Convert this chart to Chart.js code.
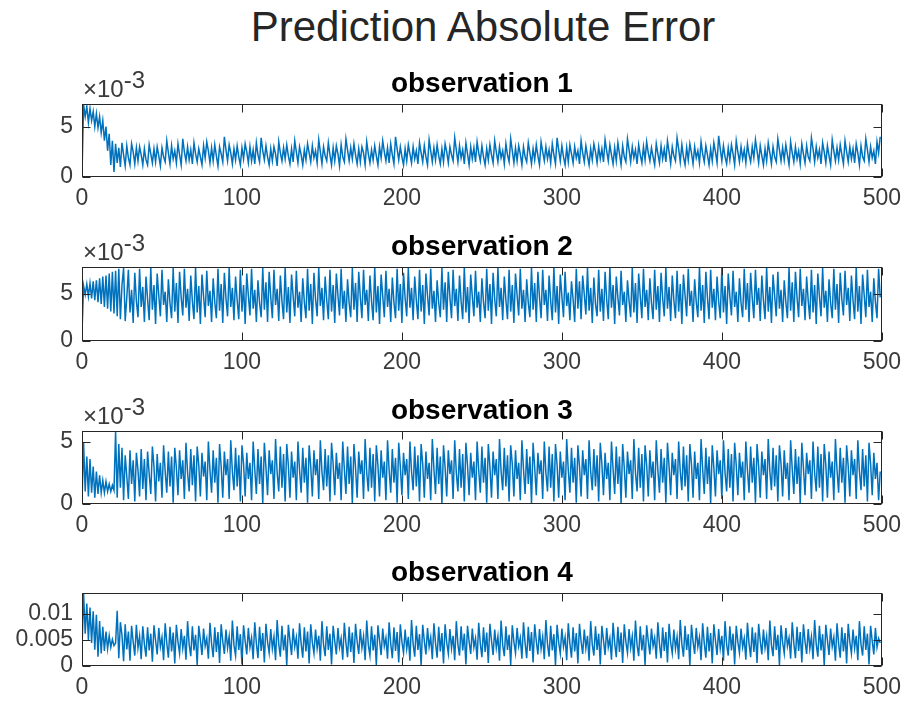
<!DOCTYPE html>
<html>
<head>
<meta charset="utf-8">
<title>Prediction Absolute Error</title>
<script src="https://cdn.jsdelivr.net/npm/chart.js@4.4.1/dist/chart.umd.min.js"></script>
<style>
  body { margin: 0; background: #fff; }
  #fig { position: relative; width: 909px; height: 702px; font-family: "Liberation Sans", Arial, sans-serif; }
  #fig h1 { position: absolute; left: 82px; width: 802px; top: 6px; margin: 0; text-align: center;
            font-weight: normal; font-size: 42px; line-height: 42px; color: #262626; }
  #fig canvas { position: absolute; left: 0; }
</style>
</head>
<body>
<div id="fig">
  <h1>Prediction Absolute Error</h1>
  <canvas id="c1" width="909" height="149" style="top:64px"></canvas>
  <canvas id="c2" width="909" height="150" style="top:227px"></canvas>
  <canvas id="c3" width="909" height="149" style="top:391px"></canvas>
  <canvas id="c4" width="909" height="149" style="top:553px"></canvas>
</div>
<script>
// eje x: muestras 0..499
const xTicks = [0, 100, 200, 300, 400, 500];
const xTickLabels = ['0', '100', '200', '300', '400', '500'];

// ticks y (valores en unidades de 1e-3)
const yTicks123 = [0, 5];
const yTickLabels123 = ['0', '5'];
const yTicks4 = [0, 5, 10];
const yTickLabels4 = ['0', '0.005', '0.01'];

const titles = ['observation 1', 'observation 2', 'observation 3', 'observation 4'];

// errores absolutos (x 1e-3)
const obs1 = [
  0.2,7.2,6.0,7.0,5.4,6.8,5.6,6.5,5.0,6.3,4.9,6.0,4.4,5.6,3.6,5.0,2.6,4.3,1.2,3.6,
  0.5,3.3,1.4,2.9,1.0,3.4,2.2,1.1,3.1,1.9,1.2,3.3,2.5,1.3,2.9,1.6,3.0,2.2,1.2,2.8,
  1.7,1.2,3.2,2.3,1.4,2.8,1.5,3.0,2.1,1.1,2.9,2.0,1.5,3.6,2.4,1.3,3.1,1.8,2.6,1.4,
  3.3,2.2,1.2,3.8,2.5,1.6,3.0,1.7,2.7,1.3,3.4,2.3,1.5,2.8,2.0,1.2,3.1,1.9,3.5,2.6,
  1.4,2.9,1.6,3.2,2.1,1.1,3.0,2.3,1.5,4.0,2.7,1.6,3.2,2.4,1.3,2.8,1.7,3.1,2.0,1.2,
  2.9,1.8,3.3,2.5,1.4,3.0,1.6,2.7,1.3,3.4,2.2,1.5,3.9,2.6,1.7,3.1,2.0,1.2,2.8,1.6,
  3.0,2.3,1.1,3.5,2.4,1.6,2.9,1.8,3.2,2.1,1.3,2.8,1.5,3.6,2.5,1.4,3.0,2.2,1.2,2.7,
  1.7,3.3,2.4,1.5,3.1,1.9,2.6,1.4,3.7,2.5,1.3,3.0,2.1,1.6,3.4,2.2,1.2,2.9,1.6,3.1,
  2.3,1.1,3.2,2.0,1.5,3.8,2.7,1.6,2.9,1.8,3.3,2.2,1.3,2.8,1.5,3.0,2.4,1.2,3.5,2.3,
  1.4,2.7,1.7,3.1,2.1,1.2,3.0,1.9,3.6,2.5,1.6,2.9,1.4,3.3,2.2,1.3,4.0,2.8,1.7,3.0,
  2.0,1.2,2.8,1.6,3.2,2.3,1.4,3.0,1.8,2.6,1.3,3.4,2.4,1.5,3.1,2.0,1.2,3.7,2.6,1.5,
  2.9,1.7,3.2,2.1,1.3,2.8,1.5,3.3,2.5,1.4,3.0,2.2,1.6,3.9,2.7,1.5,3.1,1.9,2.7,1.3,
  3.4,2.3,1.2,3.0,1.8,2.9,1.5,3.5,2.4,1.6,3.1,2.0,1.2,2.8,1.7,3.2,2.2,1.4,3.6,2.5,
  1.5,3.0,1.9,2.6,1.3,3.3,2.2,1.5,3.8,2.6,1.4,2.9,1.6,3.1,2.3,1.2,3.0,2.0,1.5,3.4,
  2.4,1.3,2.8,1.7,3.2,2.1,1.2,3.5,2.5,1.6,3.0,1.8,2.7,1.4,3.3,2.2,1.3,3.9,2.7,1.6,
  3.1,2.0,1.2,2.9,1.5,3.2,2.3,1.4,3.0,1.9,2.6,1.3,3.6,2.4,1.5,3.1,2.1,1.2,2.8,1.7,
  3.3,2.5,1.4,3.0,1.8,2.8,1.5,3.7,2.6,1.6,3.2,2.2,1.3,2.9,1.6,3.4,2.3,1.2,3.1,2.0,
  1.5,3.8,2.7,1.5,3.0,1.9,2.7,1.3,3.2,2.2,1.4,3.0,1.7,3.5,2.4,1.6,2.9,2.0,1.2,3.3,
  2.3,1.4,3.1,1.8,2.8,1.5,3.6,2.5,1.3,3.0,2.1,1.6,3.9,2.8,1.5,3.2,2.0,1.2,2.9,1.7,
  3.3,2.4,1.3,3.0,1.9,2.6,1.4,3.5,2.3,1.5,3.1,2.2,1.2,2.8,1.6,3.4,2.5,1.4,4.1,2.8,
  1.6,3.1,2.0,1.3,2.9,1.7,3.2,2.3,1.2,3.6,2.5,1.5,3.0,1.8,2.7,1.4,3.3,2.2,1.5,3.0,
  1.9,3.7,2.6,1.4,3.1,2.1,1.2,2.8,1.6,3.4,2.4,1.3,3.0,2.0,1.5,3.8,2.7,1.6,2.9,1.7,
  3.2,2.2,1.2,3.5,2.4,1.5,3.0,1.8,2.6,1.3,3.3,2.3,1.4,3.1,2.0,1.6,3.9,2.8,1.5,3.0,
  1.9,2.7,1.3,3.4,2.5,1.4,3.1,2.1,1.2,3.7,2.6,1.6,2.9,1.7,3.2,2.2,1.3,3.6,2.5,1.5,
  3.0,1.8,2.8,1.4,3.3,2.4,1.2,3.1,2.0,1.6,3.8,2.7,1.5,3.0,1.9,2.6,1.3,3.5,2.4,4.0
];

const obs2 = [
  0.9,5.8,4.9,6.0,4.7,6.1,4.5,6.3,4.3,6.4,4.1,6.6,3.9,6.8,3.6,6.9,3.4,7.1,3.1,7.3,
  2.9,7.4,2.6,7.6,2.3,5.9,7.7,2.1,4.6,7.5,3.0,5.4,1.9,7.2,4.2,2.5,7.6,3.6,5.7,2.0,
  6.8,4.4,2.2,7.7,3.3,5.9,1.8,7.1,4.8,2.6,7.5,3.8,5.2,2.0,6.5,4.0,2.4,7.7,3.1,6.1,
  1.9,7.3,4.6,2.7,7.6,3.5,5.5,2.1,6.9,4.2,2.3,7.8,3.0,5.8,1.8,7.0,4.7,2.5,7.4,3.7,
  5.3,2.0,6.6,4.1,2.4,7.6,3.2,6.0,1.9,7.2,4.5,2.6,7.7,3.6,5.6,2.2,6.8,4.3,2.3,7.5,
  3.1,5.9,1.8,7.1,4.8,2.7,7.6,3.4,5.4,2.0,6.4,4.0,2.5,7.7,3.3,6.2,2.0,7.3,4.6,2.4,
  7.5,3.8,5.5,2.1,6.9,4.2,2.3,7.8,3.0,5.7,1.9,7.0,4.7,2.6,7.4,3.5,5.2,2.0,6.6,4.1,
  2.4,7.6,3.2,6.0,1.8,7.2,4.4,2.6,7.7,3.7,5.6,2.2,6.8,4.3,2.3,7.5,3.1,5.9,1.9,7.1,
  4.8,2.7,7.6,3.4,5.3,2.0,6.5,4.0,2.5,7.7,3.3,6.1,2.0,7.3,4.6,2.4,7.5,3.8,5.4,2.1,
  6.9,4.2,2.2,7.8,3.0,5.8,1.8,7.0,4.7,2.5,7.4,3.6,5.5,2.0,6.7,4.1,2.4,7.6,3.2,6.0,
  1.9,7.2,4.5,2.6,7.7,3.5,5.6,2.2,6.8,4.3,2.3,7.5,3.1,5.9,1.8,7.1,4.8,2.7,7.6,3.4,
  5.3,2.0,6.4,4.0,2.5,7.7,3.3,6.2,2.0,7.3,4.6,2.4,7.5,3.7,5.5,2.1,6.9,4.2,2.3,7.8,
  3.0,5.7,1.9,7.0,4.7,2.6,7.4,3.5,5.2,2.0,6.6,4.1,2.4,7.6,3.2,6.0,1.8,7.2,4.4,2.6,
  7.7,3.6,5.6,2.2,6.8,4.3,2.3,7.5,3.1,5.9,1.9,7.1,4.8,2.7,7.6,3.4,5.4,2.0,6.5,4.0,
  2.5,7.7,3.3,6.1,2.0,7.3,4.6,2.4,7.5,3.8,5.4,2.1,6.9,4.2,2.2,7.8,3.0,5.8,1.8,7.0,
  4.7,2.5,7.3,3.7,5.1,2.2,6.3,4.4,2.0,7.6,3.4,6.3,2.3,6.9,4.9,2.8,7.7,3.2,5.6,1.9,
  6.7,3.9,2.6,7.5,3.1,5.5,2.1,7.3,4.4,2.3,7.8,3.5,5.9,1.8,6.8,4.6,2.7,7.4,3.8,5.2,
  2.0,6.4,4.2,2.5,7.7,3.0,6.1,1.9,7.1,4.7,2.4,7.6,3.6,5.4,2.2,6.6,4.0,2.3,7.5,3.3,
  5.8,2.0,7.2,4.5,2.6,7.7,3.4,5.7,2.1,6.9,4.3,2.4,7.4,3.1,6.0,1.8,7.0,4.8,2.6,7.6,
  3.7,5.3,2.0,6.5,4.1,2.5,7.8,3.2,5.9,1.9,7.3,4.6,2.3,7.5,3.5,5.5,2.2,6.8,4.2,2.4,
  7.7,3.0,5.8,1.8,7.1,4.7,2.7,7.4,3.6,5.2,2.0,6.6,4.0,2.5,7.6,3.3,6.1,2.0,7.2,4.5,
  2.4,7.5,3.8,5.6,2.1,6.9,4.3,2.3,7.8,3.1,5.7,1.9,7.0,4.8,2.6,7.3,3.4,5.4,2.0,6.4,
  4.1,2.4,7.7,3.2,6.2,2.0,7.3,4.6,2.5,7.6,3.7,5.5,2.2,6.8,4.2,2.3,7.5,3.0,5.9,1.8,
  7.1,4.7,2.6,7.7,3.5,5.3,2.0,6.5,4.0,2.4,7.6,3.3,6.0,1.9,7.2,4.4,2.7,7.4,3.8,5.6,
  2.1,6.9,4.3,2.3,7.8,3.1,5.8,1.8,7.0,4.8,2.5,7.5,3.6,5.2,2.0,6.6,4.1,2.4,7.6,4.6
];

const obs3 = [
  0.2,4.9,1.0,3.8,0.6,3.6,0.9,3.0,0.5,2.6,0.8,2.3,0.9,1.9,0.9,1.8,1.0,1.6,1.0,1.5,
  1.1,5.85,0.5,4.8,1.3,4.5,0.3,3.9,2.2,0.4,4.3,1.6,3.5,0.2,4.1,2.7,0.6,4.4,1.2,3.6,
  0.3,4.2,2.4,0.8,4.6,3.0,0.2,4.0,1.8,3.3,0.5,4.7,2.6,0.9,4.2,1.4,3.8,0.1,4.5,2.9,
  0.7,4.3,2.0,3.5,0.4,4.9,2.5,1.0,4.4,1.5,3.9,0.2,4.6,3.1,0.6,4.1,2.2,3.4,0.3,5.0,
  2.7,0.9,4.3,1.7,3.7,0.1,4.8,3.0,0.5,4.2,2.3,3.6,0.4,5.1,2.6,1.1,4.5,1.4,3.9,0.2,
  4.7,3.2,0.6,4.1,2.0,3.3,0.3,5.0,2.8,0.8,4.4,1.6,3.8,0.0,4.9,2.9,0.7,4.3,2.4,3.5,
  0.4,5.2,2.5,1.0,4.6,1.3,4.0,0.2,4.8,3.1,0.5,4.2,2.1,3.4,0.3,5.0,2.7,0.9,4.5,1.7,
  3.7,0.1,4.7,3.0,0.6,4.3,2.3,3.6,0.4,5.1,2.6,1.1,4.4,1.4,3.9,0.2,4.9,3.2,0.7,4.1,
  2.0,3.3,0.3,5.0,2.8,0.8,4.6,1.6,3.8,0.0,4.8,2.9,0.5,4.2,2.4,3.5,0.4,5.2,2.5,1.0,
  4.5,1.3,4.0,0.2,4.7,3.1,0.6,4.3,2.1,3.4,0.3,5.1,2.7,0.9,4.4,1.7,3.7,0.1,4.9,3.0,
  0.7,4.1,2.3,3.6,0.4,5.0,2.6,1.1,4.6,1.4,3.9,0.2,4.8,3.2,0.5,4.2,2.0,3.3,0.3,5.2,
  2.8,0.8,4.5,1.6,3.8,0.0,4.7,2.9,0.6,4.3,2.4,3.5,0.4,5.1,2.5,1.0,4.4,1.3,4.0,0.2,
  4.9,3.1,0.7,4.1,2.1,3.4,0.3,5.0,2.7,0.9,4.6,1.7,3.7,0.1,4.8,3.0,0.5,4.2,2.3,3.6,
  0.4,5.2,2.6,1.1,4.5,1.4,3.9,0.2,4.7,3.2,0.6,4.3,2.0,3.3,0.3,5.1,2.8,0.8,4.4,1.6,
  3.8,0.0,4.9,2.9,0.7,4.1,2.4,3.5,0.4,5.0,2.5,1.0,4.6,1.3,4.0,0.2,4.8,3.1,0.5,4.2,
  2.1,3.4,0.3,5.2,2.7,0.9,4.5,1.7,3.7,0.1,4.7,3.0,0.6,4.3,2.3,3.6,0.4,5.1,2.6,1.1,
  4.4,1.4,3.9,0.2,4.9,3.2,0.7,4.1,2.0,3.3,0.3,5.0,2.8,0.8,4.6,1.6,3.8,0.0,4.8,2.9,
  0.5,4.2,2.4,3.5,0.4,5.2,2.5,1.0,4.5,1.3,4.0,0.2,4.7,3.1,0.6,4.3,2.1,3.4,0.3,5.1,
  2.7,0.9,4.4,1.7,3.7,0.1,4.9,3.0,0.7,4.1,2.3,3.6,0.4,5.0,2.6,1.1,4.6,1.4,3.9,0.2,
  4.8,3.2,0.5,4.2,2.0,3.3,0.3,5.2,2.8,0.8,4.5,1.6,3.8,0.0,4.7,2.9,0.6,4.3,2.4,3.5,
  0.4,5.1,2.5,1.0,4.4,1.3,4.0,0.2,4.9,3.1,0.7,4.1,2.1,3.4,0.3,5.0,2.7,0.9,4.6,1.7,
  3.7,0.1,4.8,3.0,0.5,4.2,2.3,3.6,0.4,5.2,2.6,1.1,4.5,1.4,3.9,0.2,4.7,3.2,0.6,4.3,
  2.0,3.3,0.3,5.1,2.8,0.8,4.4,1.6,3.8,0.0,4.9,2.9,0.7,4.1,2.4,3.5,0.4,5.0,2.5,1.0,
  4.6,1.3,4.0,0.2,4.8,3.1,0.5,4.2,2.1,3.4,0.3,5.2,2.7,0.9,4.5,1.7,3.7,0.1,4.7,3.0,
  0.6,4.3,2.3,3.6,0.4,5.1,2.6,1.1,4.4,1.4,3.9,0.2,4.9,3.2,0.7,4.1,2.0,3.3,0.3,2.6
];

const obs4 = [
  3.2,13.9,6.2,12.0,5.0,11.2,4.4,10.5,3.1,9.8,1.8,8.6,2.4,7.5,2.9,6.6,3.3,5.8,3.6,5.1,
  3.9,4.4,10.6,1.5,8.4,5.9,0.9,8.0,3.2,6.6,1.0,7.7,4.6,2.0,7.9,3.5,5.7,1.3,7.6,4.2,
  1.8,7.4,3.0,6.2,0.8,7.8,4.9,2.2,7.3,3.7,5.5,1.1,8.2,4.4,1.6,7.5,2.8,6.4,0.5,7.9,
  4.6,2.4,7.1,3.4,5.8,1.2,8.6,4.1,1.9,7.6,3.0,6.0,0.2,7.7,5.0,2.1,7.2,3.8,5.3,1.4,
  8.3,4.3,1.7,7.4,2.7,6.5,0.6,8.0,4.7,2.3,7.0,3.5,5.7,1.0,8.7,4.0,2.0,7.6,3.1,6.1,
  0.3,7.8,4.8,2.2,7.3,3.6,5.4,1.3,8.4,4.4,1.5,7.5,2.9,6.3,0.7,8.1,4.6,2.5,7.1,3.3,
  5.6,1.1,8.8,4.2,1.8,7.7,3.0,6.0,0.1,7.9,4.9,2.1,7.2,3.7,5.5,1.4,8.2,4.3,1.6,7.4,
  2.8,6.6,0.5,8.0,4.5,2.4,7.0,3.4,5.8,1.0,8.6,4.1,1.9,7.6,3.1,6.2,0.3,7.7,4.8,2.2,
  7.3,3.6,5.3,1.2,8.3,4.4,1.7,7.5,2.7,6.4,0.6,8.1,4.7,2.3,7.1,3.5,5.7,1.1,8.7,4.0,
  2.0,7.6,3.0,6.0,0.2,7.8,4.9,2.1,7.2,3.8,5.4,1.4,8.4,4.3,1.5,7.4,2.9,6.5,0.7,8.0,
  4.6,2.5,7.0,3.3,5.6,1.0,8.8,4.2,1.8,7.7,3.1,6.1,0.1,7.9,4.8,2.2,7.3,3.7,5.5,1.3,
  8.2,4.4,1.6,7.5,2.8,6.3,0.5,8.0,4.5,2.4,7.1,3.4,5.8,1.1,8.6,4.1,2.0,7.6,3.0,6.2,
  0.3,7.7,4.7,2.3,7.2,3.6,5.3,1.2,8.3,4.3,1.7,7.4,2.7,6.4,0.6,8.1,4.9,2.1,7.0,3.5,
  5.7,1.0,8.7,4.0,1.9,7.6,3.1,6.0,0.2,7.8,4.6,2.5,7.3,3.8,5.4,1.4,8.4,4.4,1.5,7.5,
  2.9,6.5,0.7,8.0,4.8,2.2,7.1,3.3,5.6,1.3,8.8,4.2,1.8,7.7,3.0,6.1,0.1,7.9,4.5,2.4,
  7.2,3.7,5.5,1.1,8.2,4.3,1.6,7.4,2.8,6.3,0.5,8.1,4.7,2.3,7.0,3.4,5.8,1.0,8.6,4.1,
  2.0,7.6,3.1,6.2,0.3,7.7,4.9,2.1,7.3,3.6,5.3,1.2,8.3,4.4,1.7,7.5,2.7,6.4,0.6,8.0,
  4.6,2.5,7.1,3.5,5.7,1.0,8.7,4.0,1.9,7.6,3.0,6.0,0.2,7.8,4.8,2.2,7.2,3.8,5.4,1.4,
  8.4,4.3,1.5,7.4,2.9,6.5,0.7,8.1,4.5,2.4,7.0,3.3,5.6,1.3,8.8,4.2,1.8,7.7,3.1,6.1,
  0.1,7.9,4.7,2.3,7.3,3.7,5.5,1.1,8.2,4.4,1.6,7.5,2.8,6.3,0.5,8.0,4.9,2.1,7.1,3.4,
  5.8,1.0,8.6,4.1,2.0,7.6,3.0,6.2,0.3,7.7,4.6,2.5,7.2,3.6,5.3,1.2,8.3,4.3,1.7,7.4,
  2.7,6.4,0.6,8.1,4.8,2.2,7.0,3.5,5.7,1.1,8.7,4.0,1.9,7.6,3.1,6.0,0.2,7.8,4.5,2.4,
  7.3,3.8,5.4,1.4,8.4,4.4,1.5,7.5,2.9,6.5,0.7,8.0,4.7,2.3,7.1,3.3,5.6,1.3,8.8,4.2,
  1.8,7.7,3.0,6.1,0.1,7.9,4.9,2.1,7.2,3.7,5.5,1.0,8.2,4.3,1.6,7.4,2.8,6.3,0.5,8.1,
  4.6,2.4,7.0,3.4,5.8,1.1,8.6,4.1,2.0,7.6,3.1,6.2,0.3,7.7,4.8,2.2,7.3,3.6,5.3,4.4
];

const FONT = '"Liberation Sans", Arial, sans-serif';
const LINE_COLOR = '#0072BD';
const AXIS_COLOR = '#262626';
const LABEL_COLOR = '#3a3a3a';

// caja de ejes con marcas hacia dentro (estilo MATLAB) y el multiplicador x10^-3
const boxPlugin = {
  id: 'box',
  afterDraw(chart, args, opts) {
    const { ctx, chartArea: a, scales } = chart;
    const L = Math.round(a.left) + 0.5, R = Math.round(a.right) - 0.5;
    const T = Math.round(a.top) + 0.5, B = Math.round(a.bottom) - 0.5;
    ctx.save();
    ctx.strokeStyle = AXIS_COLOR;
    ctx.lineWidth = 1;
    ctx.strokeRect(L, T, R - L, B - T);
    ctx.beginPath();
    scales.x.ticks.forEach(t => {
      const px = Math.round(scales.x.getPixelForValue(t.value)) + 0.5;
      ctx.moveTo(px, B); ctx.lineTo(px, B - 8);
      ctx.moveTo(px, T); ctx.lineTo(px, T + 8);
    });
    scales.y.ticks.forEach(t => {
      const py = Math.round(scales.y.getPixelForValue(t.value)) + 0.5;
      ctx.moveTo(L, py); ctx.lineTo(L + 8, py);
      ctx.moveTo(R, py); ctx.lineTo(R - 8, py);
    });
    ctx.stroke();
    if (opts.exponent) {
      ctx.fillStyle = LABEL_COLOR;
      ctx.font = '24px ' + FONT;
      ctx.textBaseline = 'alphabetic';
      ctx.fillText('\u00d710', a.left + 1, a.top - 7);
      const w = ctx.measureText('\u00d710').width;
      ctx.fillText(opts.exponent, a.left + 1 + w, a.top - 16);
    }
    ctx.restore();
  }
};

function makePanel(id, title, values, yMax, yTicks, yTickLabels, exponent) {
  new Chart(document.getElementById(id), {
    type: 'line',
    data: {
      datasets: [{
        data: values.map((v, i) => ({ x: i, y: v })),
        borderColor: LINE_COLOR,
        borderWidth: 1.5,
        pointRadius: 0,
        tension: 0,
        fill: false
      }]
    },
    options: {
      responsive: false,
      animation: false,
      events: [],
      layout: { padding: { top: 0, right: 25, bottom: 0, left: 0 } },
      plugins: {
        legend: { display: false },
        tooltip: { enabled: false },
        title: {
          display: true,
          text: title,
          fullSize: false,
          color: '#000',
          font: { family: FONT, size: 28, weight: 'bold', lineHeight: 1.1 },
          padding: { top: 5, bottom: 4.2 }
        },
        box: { exponent: exponent }
      },
      scales: {
        x: {
          type: 'linear',
          min: 0,
          max: 500,
          grid: { display: false, drawTicks: false },
          border: { display: false },
          afterBuildTicks: s => { s.ticks = xTicks.map(v => ({ value: v })); },
          afterFit: s => { s.height = 36; },
          ticks: {
            padding: 8,
            color: LABEL_COLOR,
            font: { family: FONT, size: 23 },
            maxRotation: 0,
            autoSkip: false,
            callback: (v, i) => xTickLabels[i]
          }
        },
        y: {
          min: 0,
          max: yMax,
          grid: { display: false, drawTicks: false },
          border: { display: false },
          afterBuildTicks: s => { s.ticks = yTicks.map(v => ({ value: v })); },
          afterFit: s => { s.width = 82; },
          ticks: {
            padding: 9,
            color: LABEL_COLOR,
            font: { family: FONT, size: 23 },
            autoSkip: false,
            callback: (v, i) => yTickLabels[i]
          }
        }
      }
    },
    plugins: [boxPlugin]
  });
}

makePanel('c1', titles[0], obs1, 7.25, yTicks123, yTickLabels123, '-3');
makePanel('c2', titles[1], obs2, 7.8, yTicks123, yTickLabels123, '-3');
makePanel('c3', titles[2], obs3, 5.85, yTicks123, yTickLabels123, '-3');
makePanel('c4', titles[3], obs4, 14, yTicks4, yTickLabels4, null);
</script>
</body>
</html>
